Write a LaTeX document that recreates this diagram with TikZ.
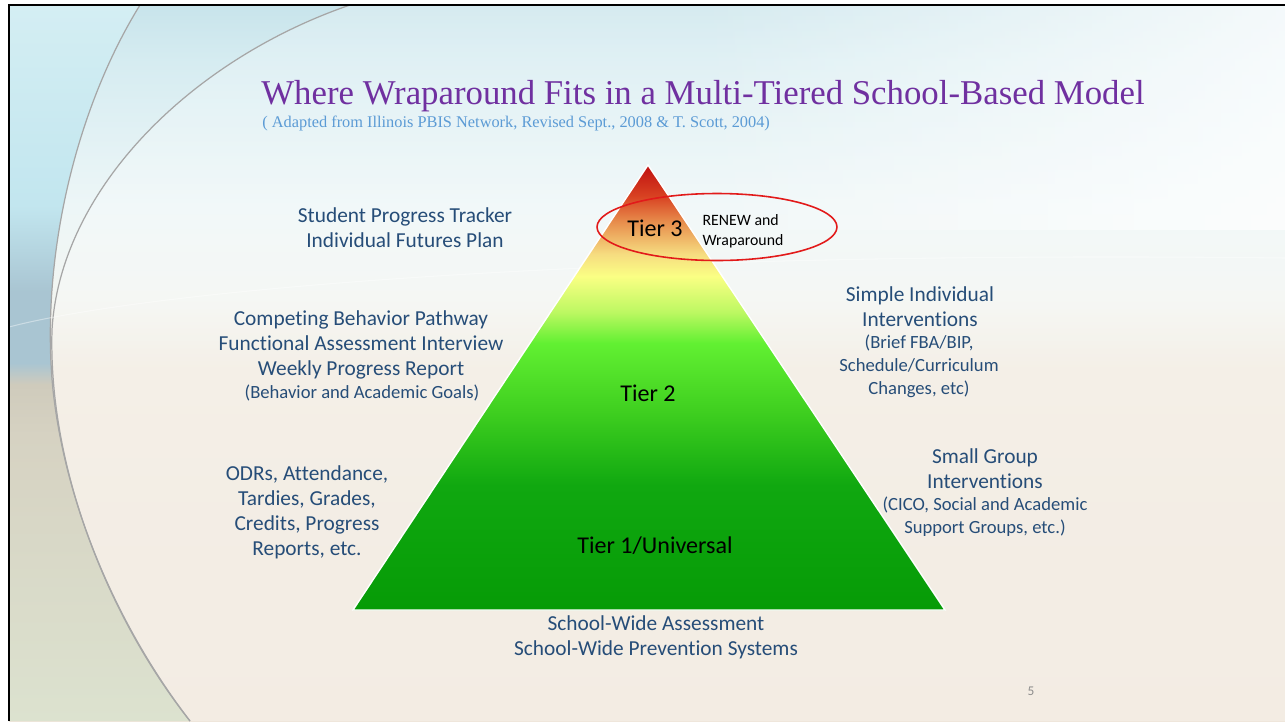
\documentclass[tikz,border=0pt]{standalone}
\usepackage{fontspec}
\setmainfont{Carlito}[Ligatures=NoCommon]
\newfontfamily\titlefont{Liberation Serif}
\usetikzlibrary{shapes.geometric,fadings}

\definecolor{ttlpurple}{HTML}{7030A0}
\definecolor{subblue}{HTML}{5B9BD5}
\definecolor{bodyblue}{HTML}{264D78}
\definecolor{ringred}{HTML}{E21A1A}
\definecolor{pgnum}{HTML}{8C8C8C}

% triangle colours (bottom to top)
\definecolor{tA}{HTML}{069B06}
\definecolor{tB}{HTML}{10A810}
\definecolor{tC}{HTML}{40D020}
\definecolor{tD}{HTML}{62F032}
\definecolor{tE}{HTML}{BDF862}
\definecolor{tF}{HTML}{FAFF84}
\definecolor{tG}{HTML}{F6DC80}
\definecolor{tH}{HTML}{E8904E}
\definecolor{tI}{HTML}{D84222}
\definecolor{tJ}{HTML}{C01010}
\pgfdeclareverticalshading{tiershade}{100bp}{color(0bp)=(tA); color(25bp)=(tA); color(39bp)=(tB); color(47.5bp)=(tC); color(55bp)=(tD); color(58.5bp)=(tE); color(62.5bp)=(tF); color(65bp)=(tG); color(68.5bp)=(tH); color(71.5bp)=(tI); color(75bp)=(tJ); color(100bp)=(tJ)}

% background colours (bottom to top)
\definecolor{bA}{HTML}{EFE6DA}
\definecolor{bB}{HTML}{F1EADF}
\definecolor{bC}{HTML}{F2F5F1}
\definecolor{bD}{HTML}{EDF6F7}
\definecolor{bE}{HTML}{D6ECF1}
\definecolor{bF}{HTML}{C8E4EB}
\pgfdeclareverticalshading{bgshade}{100bp}{color(0bp)=(bA); color(25bp)=(bA); color(49.5bp)=(bB); color(54.5bp)=(bC); color(61bp)=(bD); color(71bp)=(bE); color(75bp)=(bF); color(100bp)=(bF)}

% left outer band colours
\definecolor{lA}{HTML}{DCE2CF}
\definecolor{lB}{HTML}{D6D2C2}
\definecolor{lC}{HTML}{CFCBBC}
\definecolor{lD}{HTML}{A9C5D2}
\definecolor{lE}{HTML}{C2E6EF}
\definecolor{lF}{HTML}{D4EEF3}
\pgfdeclareverticalshading{leftshade}{100bp}{color(0bp)=(lA); color(25bp)=(lA); color(45bp)=(lB); color(48.5bp)=(lC); color(50bp)=(lD); color(55bp)=(lD); color(61bp)=(lE); color(75bp)=(lF); color(100bp)=(lF)}

\tikzset{
  body/.style={font=\fontsize{12.15}{14.2}\selectfont, text=bodyblue, align=center, inner sep=0pt},
  smalltxt/.style={font=\fontsize{10.6}{13}\selectfont, text=bodyblue, align=center, inner sep=0pt},
  tierlbl/.style={font=\fontsize{13.7}{15}\selectfont, text=black, inner sep=0pt},
  swirl/.style={draw=black!35, line width=0.7pt},
}

\begin{document}
\begin{tikzpicture}[x=0.02cm,y=-0.02cm]
\useasboundingbox (0,0) rectangle (1285,721);
\fill[white] (0,0) rectangle (1285,721);

% slide background
\shade[shading=bgshade] (9,5) rectangle (1285,721);
\fill[white, path fading=west, opacity=0.75] (700,5) rectangle (1285,230);
\fill[white, opacity=0.25] (350,5) .. controls (190,60) and (60,190) .. (52,330)
   .. controls (48,470) and (110,620) .. (190,721) -- (1285,721) -- (1285,5) -- cycle;

% outer left band
\shade[shading=leftshade] (9,5) -- (140,5) .. controls (75,110) and (40,260) .. (53,390)
   .. controls (66,510) and (120,630) .. (190,721) -- (9,721) -- cycle;

% swirl lines
\draw[swirl] (140,5) .. controls (75,110) and (40,260) .. (53,390)
   .. controls (66,510) and (120,630) .. (190,721);
\draw[swirl] (350,5) .. controls (190,60) and (60,190) .. (52,330)
   .. controls (48,470) and (110,620) .. (190,721);
\draw[white, opacity=0.4, line width=0.6pt] (9,327) .. controls (150,290) and (600,250) .. (1285,258);

% slide frame
\draw[black, line width=1.3pt] (9,721) -- (9,5) -- (1285,5);

% title
\node[anchor=west, inner sep=0pt, text=ttlpurple, font=\titlefont\fontsize{19.8}{21}\selectfont] (title) at (261,96) {Where Wraparound Fits in a Multi-Tiered School-Based Model};
\node[anchor=west, inner sep=0pt, text=subblue, font=\titlefont\fontsize{9.3}{10}\selectfont] (subtitle) at (262,123) {( Adapted from Illinois PBIS Network, Revised Sept., 2008 \& T. Scott, 2004)};

% pyramid
\coordinate (apex) at (648,165);
\coordinate (bl) at (353,610);
\coordinate (br) at (945,610);
\shade[shading=tiershade, draw=white, line width=0.8pt] (apex) -- (br) -- (bl) -- cycle;

% tier labels
\node[tierlbl] (t3) at (655,228) {Tier 3};
\node[font=\fontsize{9.0}{11.3}\selectfont, align=left, inner sep=0pt] (renew) at (743,231) {RENEW and\\Wraparound};
\node[draw=ringred, line width=0.9pt, ellipse, inner sep=0pt, minimum width=4.8cm, minimum height=1.34cm] (ring) at (717,227) {};
\node[tierlbl] (t2) at (648,393) {Tier 2};
\node[tierlbl] (t1) at (655,546) {Tier 1/Universal};

% side texts
\node[body] (spt) at (405,228) {Student Progress Tracker\\Individual Futures Plan};
\node[body] (cbp) at (361,345) {Competing Behavior Pathway\\Functional Assessment Interview\\Weekly Progress Report};
\node[smalltxt] (bag) at (362,393) {(Behavior and Academic Goals)};
\node[body] (odr) at (307,512) {ODRs, Attendance,\\Tardies, Grades,\\Credits, Progress\\Reports, etc.};
\node[body] (sii) at (920,307) {Simple Individual\\Interventions};
\node[smalltxt] (sii2) at (919,366) {(Brief FBA/BIP,\\Schedule/Curriculum\\Changes, etc)};
\node[body] (sgi) at (985,469) {Small Group\\Interventions};
\node[smalltxt] (sgi2) at (985,517) {(CICO, Social and Academic\\Support Groups, etc.)};
\node[body] (swa) at (656,637) {School-Wide Assessment\\School-Wide Prevention Systems};

% page number
\node[text=pgnum, font=\fontsize{7.6}{8}\selectfont, inner sep=0pt] (pg) at (1031,691) {5};
\end{tikzpicture}
\end{document}
